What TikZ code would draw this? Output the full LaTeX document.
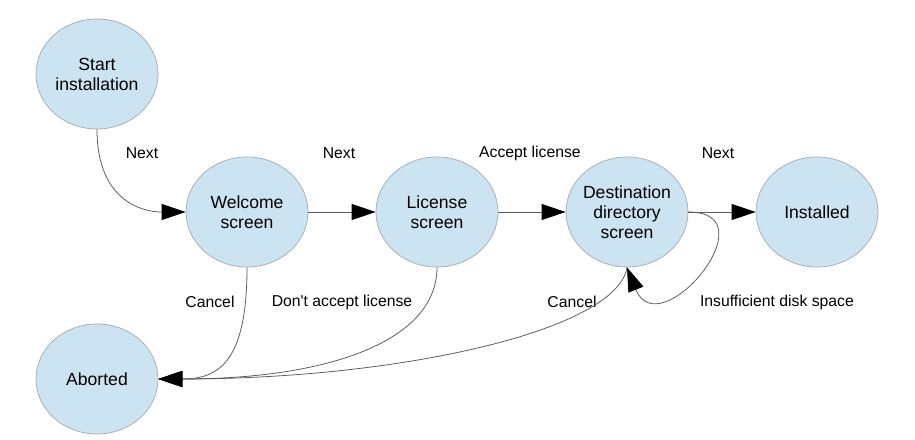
\documentclass[tikz,border=0pt]{standalone}
\usepackage{fontspec}
\setmainfont{Liberation Sans}
\usetikzlibrary{shapes.geometric,arrows.meta}

\definecolor{stateblue}{RGB}{204,227,242}
\definecolor{stateedge}{RGB}{165,170,175}
\definecolor{edgegray}{RGB}{90,90,90}
\newcommand{\statefont}{\fontsize{12.5}{14.2}\selectfont}
\newcommand{\lblfont}{\fontsize{11.2}{13.4}\selectfont}

\tikzset{
    state/.style={ellipse, draw=stateedge, line width=0.5pt, fill=stateblue,
        minimum width=3.05cm, minimum height=2.75cm, inner xsep=-6pt, inner ysep=0pt,
        align=center, font=\statefont},
    trans/.style={draw=edgegray, line width=0.55pt,
        -{Triangle[length=0.6cm,width=0.4cm,color=black]}},
    lbl/.style={font=\lblfont, inner sep=0pt}
}

\begin{document}
\begin{tikzpicture}[x=0.025cm, y=-0.025cm]
    \useasboundingbox (0,0) rectangle (915,440);

    % states
    \node[state] (start) at (97,74) {Start\\installation};
    \node[state] (welcome) at (247,212) {Welcome\\screen};
    \node[state] (license) at (437,212) {License\\screen};
    \node[state] (dest) at (627,212) {Destination\\directory\\screen};
    \node[state] (installed) at (817,212) {Installed};
    \node[state] (aborted) at (97,379) {Aborted};

    % labels
    \node[lbl] (nextA) at (142,153) {Next};
    \node[lbl] (nextB) at (339,153) {Next};
    \node[lbl] (accept) at (530,153) {Accept license};
    \node[lbl] (nextC) at (718,153) {Next};
    \node[lbl] (cancelA) at (210,302) {Cancel};
    \node[lbl] (noaccept) at (342,302) {Don\textquotesingle t accept license};
    \node[lbl] (cancelB) at (572,302) {Cancel};
    \node[lbl] (nospace) at (777,302) {Insufficient disk space};

    % transitions
    \draw[trans] (start.south) .. controls +(0,70) and +(-45,0) .. (welcome.west);
    \draw[trans] (welcome) to (license);
    \draw[trans] (license) to (dest);
    \draw[trans] (dest) to (installed);
    \draw[trans] (welcome.south) .. controls +(0,95) and +(60,0) .. (aborted.east);
    \draw[trans] (license.south) .. controls +(0,73) and +(172,0) .. (aborted.east);
    \draw[trans] (dest.south) .. controls +(-10,63) and +(242,0) .. (aborted.east);
    \draw[trans] (dest.east) .. controls +(84,0) and +(32,80) .. (dest.south);
\end{tikzpicture}
\end{document}
